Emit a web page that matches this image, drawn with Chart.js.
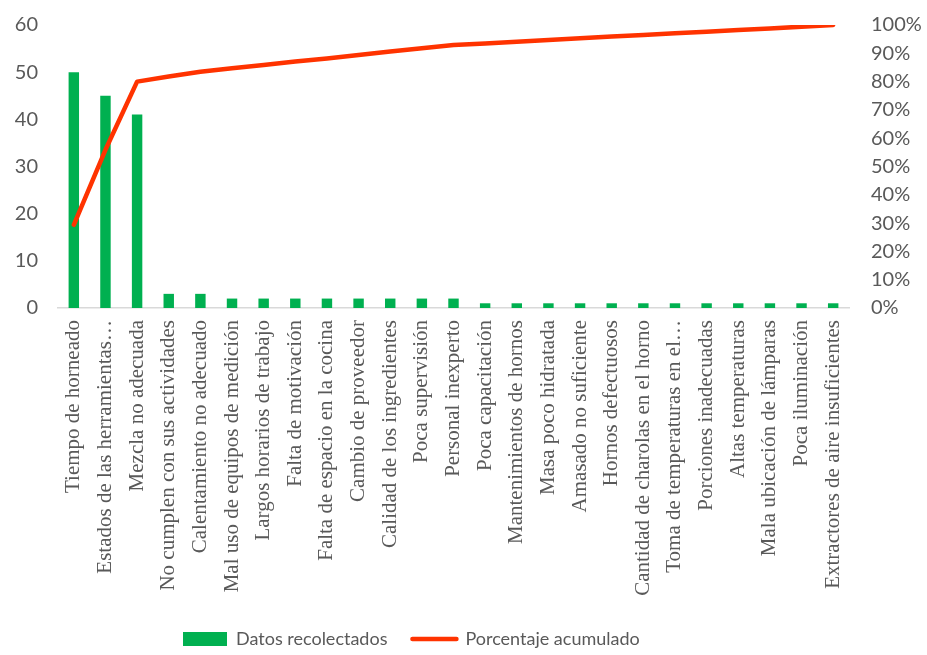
<!DOCTYPE html>
<html>
<head>
<meta charset="utf-8">
<script src="https://cdn.jsdelivr.net/npm/chart.js@4.4.1/dist/chart.umd.min.js"></script>
<style>
  html, body { margin: 0; padding: 0; background: #ffffff; }
  #wrap { width: 927px; height: 655px; position: relative; }
</style>
</head>
<body>
<div id="wrap"><canvas id="c"></canvas></div>
<script>
const categories = [
  "Tiempo de horneado",
  "Estados de las herramientas…",
  "Mezcla no adecuada",
  "No cumplen con sus actividades",
  "Calentamiento no adecuado",
  "Mal uso de equipos de medición",
  "Largos horarios de trabajo",
  "Falta de motivación",
  "Falta de espacio en la cocina",
  "Cambio de proveedor",
  "Calidad de los ingredientes",
  "Poca supervisión",
  "Personal inexperto",
  "Poca capacitación",
  "Mantenimientos de hornos",
  "Masa poco hidratada",
  "Amasado no suficiente",
  "Hornos defectuosos",
  "Cantidad de charolas en el horno",
  "Toma de temperaturas en el…",
  "Porciones inadecuadas",
  "Altas temperaturas",
  "Mala ubicación de lámparas",
  "Poca iluminación",
  "Extractores de aire insuficientes"
];
const datosRecolectados = [50, 45, 41, 3, 3, 2, 2, 2, 2, 2, 2, 2, 2, 1, 1, 1, 1, 1, 1, 1, 1, 1, 1, 1, 1];
const porcentajeAcumulado = [29.4, 55.9, 80.0, 81.8, 83.5, 84.7, 85.9, 87.1, 88.2, 89.4, 90.6, 91.8, 92.9,
  93.5, 94.1, 94.7, 95.3, 95.9, 96.5, 97.1, 97.6, 98.2, 98.8, 99.4, 100.0];
const leftTicks = [0, 10, 20, 30, 40, 50, 60];
const rightTicks = [0, 10, 20, 30, 40, 50, 60, 70, 80, 90, 100];
const seriesNames = ["Datos recolectados", "Porcentaje acumulado"];

const textColor = '#595959';
const sansFont = 'Lato, "Liberation Sans", sans-serif';
const serifFont = '"Liberation Serif", "DejaVu Serif", serif';
const legendFontSize = 18;

function noPad(scale) {
  scale.paddingTop = 0; scale.paddingBottom = 0;
  scale.paddingLeft = 0; scale.paddingRight = 0;
}

// Place the legend where the reference has it (left-aligned start, fixed row)
const legendPlacer = {
  id: 'legendPlacer',
  afterLayout(chart) {
    const lg = chart.legend;
    if (!lg) return;
    const pad = lg.options.labels.padding;
    lg.left = 183 - pad;
    lg.right = chart.width;
    lg.top = 639 - legendFontSize / 2 - pad;
    lg.bottom = chart.height + 40;
    lg.width = lg.right - lg.left;
    lg.height = lg.bottom - lg.top;
  }
};

new Chart(document.getElementById('c'), {
  data: {
    labels: categories,
    datasets: [
      {
        type: 'bar',
        label: seriesNames[0],
        data: datosRecolectados,
        backgroundColor: '#00B050',
        borderWidth: 0,
        categoryPercentage: 1.0,
        barPercentage: 0.33,
        yAxisID: 'y',
        order: 2
      },
      {
        type: 'line',
        label: seriesNames[1],
        data: porcentajeAcumulado,
        borderColor: '#FF3300',
        backgroundColor: '#FF3300',
        borderWidth: 4.5,
        borderCapStyle: 'round',
        borderJoinStyle: 'round',
        pointRadius: 0,
        pointHoverRadius: 0,
        tension: 0,
        fill: false,
        yAxisID: 'y1',
        order: 1
      }
    ]
  },
  plugins: [legendPlacer],
  options: {
    responsive: true,
    maintainAspectRatio: false,
    animation: false,
    devicePixelRatio: 1,
    layout: { padding: { top: 25, left: 0, right: 0, bottom: 0 } },
    plugins: {
      tooltip: { enabled: false },
      legend: {
        display: true,
        position: 'bottom',
        align: 'start',
        maxHeight: 40,
        labels: {
          color: textColor,
          font: { family: sansFont, size: legendFontSize },
          usePointStyle: true,
          pointStyleWidth: 44,
          boxHeight: 14,
          padding: 25,
          generateLabels: (chart) => {
            return chart.data.datasets.map((ds, i) => ({
              text: ds.label,
              fillStyle: ds.type === 'bar' ? ds.backgroundColor : ds.borderColor,
              strokeStyle: ds.type === 'bar' ? ds.backgroundColor : ds.borderColor,
              lineWidth: ds.type === 'bar' ? 0 : 4.5,
              lineCap: 'round',
              pointStyle: ds.type === 'bar' ? 'rect' : 'line',
              fontColor: textColor,
              hidden: false,
              datasetIndex: i
            }));
          }
        }
      }
    },
    scales: {
      x: {
        type: 'category',
        offset: true,
        grid: { display: false, drawTicks: false },
        border: { display: true, color: '#D9D9D9', width: 1.5 },
        ticks: {
          autoSkip: false,
          maxRotation: 90,
          minRotation: 90,
          padding: 12,
          color: textColor,
          font: { family: serifFont, size: 21 }
        },
        afterFit: (scale) => { scale.height = 307; noPad(scale); }
      },
      y: {
        position: 'left',
        min: leftTicks[0],
        max: leftTicks[leftTicks.length - 1],
        grid: { display: false, drawTicks: false },
        border: { display: false },
        ticks: {
          stepSize: 10,
          padding: 20,
          color: textColor,
          font: { family: sansFont, size: 20 }
        },
        afterFit: (scale) => { scale.width = 58; noPad(scale); }
      },
      y1: {
        position: 'right',
        min: rightTicks[0],
        max: rightTicks[rightTicks.length - 1],
        grid: { display: false, drawTicks: false },
        border: { display: false },
        ticks: {
          stepSize: 10,
          padding: 22,
          color: textColor,
          font: { family: sansFont, size: 20 },
          callback: (v) => v + '%'
        },
        afterFit: (scale) => { scale.width = 78; noPad(scale); }
      }
    }
  }
});
</script>
</body>
</html>
